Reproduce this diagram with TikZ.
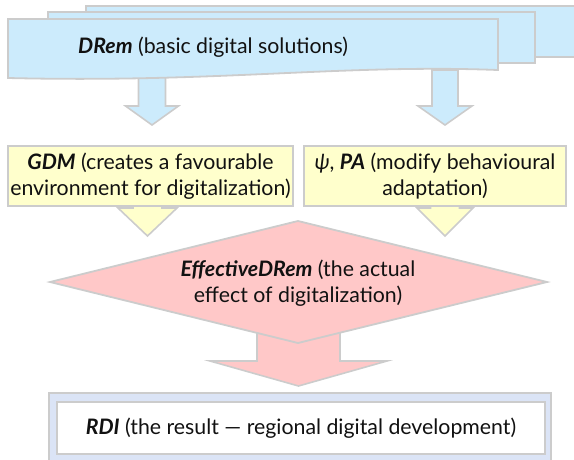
\documentclass[tikz,border=0pt]{standalone}
\usepackage{fontspec}
\setmainfont{Lato}
\definecolor{bluefill}{RGB}{204,235,252}
\definecolor{yelfill}{RGB}{255,255,204}
\definecolor{redfill}{RGB}{255,200,200}
\definecolor{edgegray}{RGB}{204,204,204}
\definecolor{rdiouter}{RGB}{219,228,246}
\definecolor{txt}{RGB}{17,17,17}
\newcommand{\blockarr}[7]{%
  \draw[arrshape, fill=#1] ({#2-#4},{#3}) -- ({#2+#4},{#3}) -- ({#2+#4},{#6}) -- ({#2+#5},{#6}) -- ({#2},{#7}) -- ({#2-#5},{#6}) -- ({#2-#4},{#6}) -- cycle;}
\begin{document}
\begin{tikzpicture}[x=1pt,y=-1pt,
  arrshape/.style={draw=edgegray, line width=1.6pt, line join=miter},
  shapeedge/.style={draw=edgegray, line width=1.8pt},
  label/.style={text=txt, font=\fontsize{21.3}{25.5}\selectfont, align=center, inner sep=0pt}]
\useasboundingbox (0,0) rectangle (574,459);
% block arrows (behind shapes)
\blockarr{bluefill}{152}{70}{13.5}{26.5}{106}{125}
\blockarr{bluefill}{445}{70}{13}{27}{106}{125}
\blockarr{yelfill}{147.5}{200}{14.5}{29.5}{208}{236}
\blockarr{yelfill}{445}{200}{14.5}{28}{208}{236}
\blockarr{redfill}{298.5}{320}{41.5}{88.5}{361}{386}
% multi-document
\draw[shapeedge, fill=bluefill] (86,6) rectangle (582,57);
\draw[shapeedge, fill=bluefill] (48,12) rectangle (535,63);
\draw[shapeedge, fill=bluefill] (8,19) -- (498,19) -- (498,70) .. controls (340,64) and (220,83) .. (8,78) -- cycle;
\node[label, anchor=west] (drem) at (78,47) {\textbf{\textit{DRem}} (basic digital solutions)};
% yellow boxes
\node[shapeedge, fill=yelfill, minimum width=285pt, minimum height=60pt, inner sep=0pt] (gdmbox) at (150.5,176) {};
\node[label] (gdm) at (gdmbox.center) {\textbf{\textit{GDM}} (creates a favourable\\environment for digitalization)};
\node[shapeedge, fill=yelfill, minimum width=262pt, minimum height=60pt, inner sep=0pt] (pabox) at (435,176) {};
\node[label] (pa) at (pabox.center) {\textit{ψ}, \textbf{\textit{PA}} (modify behavioural\\adaptation)};
% diamond
\coordinate (dt) at (298,221);
\coordinate (dr) at (547,282);
\coordinate (db) at (298,343);
\coordinate (dl) at (50,282);
\draw[shapeedge, fill=redfill] (dt) -- (dr) -- (db) -- (dl) -- cycle;
\node[label] (eff) at (298,283) {\textbf{\textit{EffectiveDRem}} (the actual\\effect of digitalization)};
% RDI
\draw[shapeedge, fill=rdiouter] (49,393) rectangle (551,462);
\node[shapeedge, fill=white, minimum width=488pt, minimum height=52pt, inner sep=0pt] (rdibox) at (301,428) {};
\node[label] (rdi) at (rdibox.center) {\textbf{\textit{RDI}} (the result — regional digital development)};
\end{tikzpicture}
\end{document}
